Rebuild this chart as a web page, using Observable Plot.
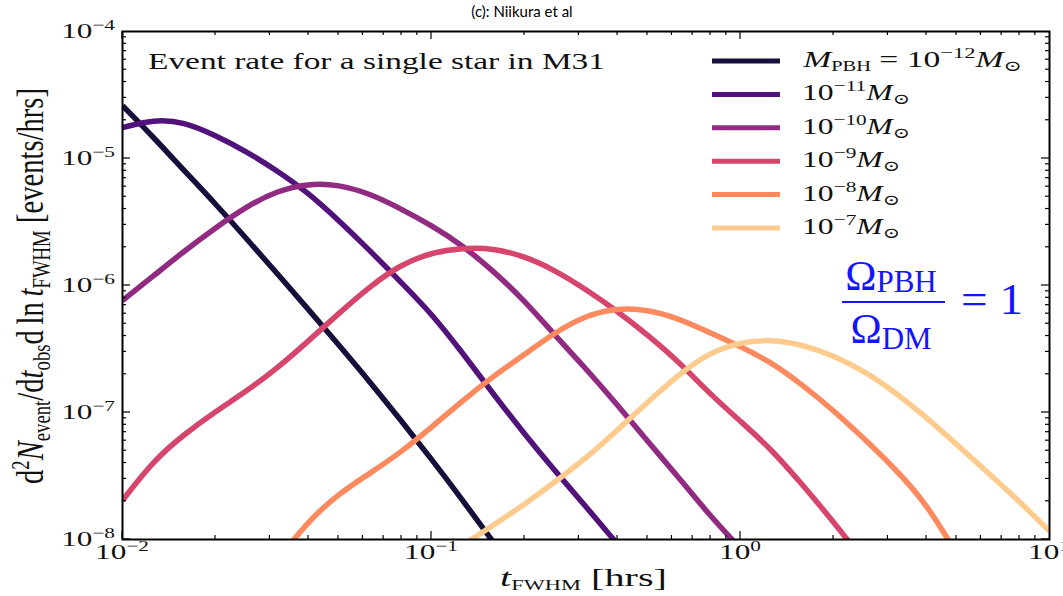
<!DOCTYPE html>
<html><head><meta charset="utf-8">
<script src="https://cdn.jsdelivr.net/npm/d3@7"></script>
<script src="https://cdn.jsdelivr.net/npm/@observablehq/plot@0.6"></script>
<style>body{margin:0;background:#fff}#chart svg{display:block}</style>
</head><body><div id="chart"></div>
<script>
// x grid: t_FWHM [hrs]
const tFWHM = [0.01, 0.0126, 0.0158, 0.02, 0.0251, 0.0316, 0.0398, 0.0501, 0.0631, 0.0794,
  0.1, 0.126, 0.158, 0.2, 0.251, 0.316, 0.398, 0.501, 0.631, 0.794,
  1, 1.26, 1.58, 2, 2.51, 3.16, 3.98, 5.01, 6.31, 7.94, 10];
// event rate [events/hrs] for each PBH mass
const rate_m12 = [2.61e-5, 1.47e-5, 8.07e-6, 4.39e-6, 2.36e-6, 1.25e-6, 6.56e-7, 3.40e-7, 1.75e-7, 8.75e-8,
  4.29e-8, 2.05e-8, 9.6e-9, 4.5e-9, null, null, null, null, null, null,
  null, null, null, null, null, null, null, null, null, null, null];
const rate_m11 = [1.75e-5, 2.03e-5, 1.95e-5, 1.52e-5, 1.14e-5, 8.05e-6, 5.40e-6, 3.25e-6, 1.89e-6, 1.07e-6,
  6.03e-7, 2.95e-7, 1.41e-7, 6.76e-8, 3.47e-8, 1.82e-8, 9.33e-9, null, null, null,
  null, null, null, null, null, null, null, null, null, null, null];
const rate_m10 = [7.62e-7, 1.19e-6, 1.86e-6, 2.85e-6, 4.17e-6, 5.56e-6, 6.35e-6, 6.24e-6, 5.30e-6, 4.04e-6,
  2.97e-6, 2.07e-6, 1.31e-6, 7.62e-7, 4.04e-7, 2.22e-7, 1.16e-7, 5.92e-8, 3.08e-8, 1.55e-8,
  8.49e-9, null, null, null, null, null, null, null, null, null, null];
const rate_m9 = [2.03e-8, 4.19e-8, 6.71e-8, 1.02e-7, 1.46e-7, 2.22e-7, 3.62e-7, 6.03e-7, 9.82e-7, 1.46e-6,
  1.82e-6, 1.97e-6, 1.97e-6, 1.70e-6, 1.32e-6, 9.33e-7, 6.31e-7, 4.07e-7, 2.51e-7, 1.41e-7,
  8.51e-8, 5.13e-8, 2.73e-8, 1.38e-8, 6.76e-9, null, null, null, null, null, null];
const rate_m8 = [null, null, null, null, null, 6.8e-9, 1.39e-8, 2.30e-8, 3.31e-8, 4.84e-8,
  7.62e-8, 1.24e-7, 1.92e-7, 2.86e-7, 4.27e-7, 5.81e-7, 6.65e-7, 6.47e-7, 5.50e-7, 4.27e-7,
  3.31e-7, 2.48e-7, 1.66e-7, 1.04e-7, 6.24e-8, 3.62e-8, 1.95e-8, 7.7e-9, null, null, null];
const rate_m7 = [null, null, null, null, null, null, null, null, null, null,
  null, 8.97e-9, 1.29e-8, 1.89e-8, 2.84e-8, 4.35e-8, 7.21e-8, 1.21e-7, 1.99e-7, 2.97e-7,
  3.59e-7, 3.76e-7, 3.43e-7, 2.81e-7, 2.12e-7, 1.45e-7, 9.23e-8, 5.60e-8, 3.37e-8, 2.03e-8, 1.16e-8];

const massKeys = ["1e-12", "1e-11", "1e-10", "1e-9", "1e-8", "1e-7"];
const massExponents = ["\u221212", "\u221211", "\u221210", "\u22129", "\u22128", "\u22127"];
const massColors = ["#160f3b", "#51127c", "#912b81", "#d6456c", "#fd8a5e", "#fecb8e"];
const xTickExps = [-2, -1, 0, 1];
const yTickExps = [-8, -7, -6, -5, -4];
const title = "(c): Niikura et al";
const insetText = "Event rate for a single star in M31";

const allSeries = [rate_m12, rate_m11, rate_m10, rate_m9, rate_m8, rate_m7];
const rows = [];
allSeries.forEach((ys, i) => ys.forEach((v, j) => {
  if (v != null) rows.push({t: tFWHM[j], rate: v, mass: massKeys[i]});
}));

const SERIF = "'Liberation Serif', 'DejaVu Serif', serif";
const plot = Plot.plot({
  width: 1063, height: 596,
  marginLeft: 122, marginRight: 14, marginTop: 31, marginBottom: 57,
  x: {type: "log", domain: [1e-2, 10], axis: null},
  y: {type: "log", domain: [1e-8, 1e-4], axis: null},
  color: {domain: massKeys, range: massColors},
  style: {background: "#fff", fontFamily: SERIF},
  marks: [
    Plot.line(rows, {x: "t", y: "rate", z: "mass", stroke: "mass", strokeWidth: 5.5,
      curve: "basis", clip: true, strokeLinecap: "butt"}),
    Plot.frame({stroke: "#000", strokeWidth: 2})
  ]
});
document.getElementById("chart").appendChild(plot);

const svg = d3.select(plot);
const X = plot.scale("x"), Y = plot.scale("y");
const xl = X.range[0], xr = X.range[1];
const yb = Y.range[0], yt = Y.range[1];

// inward ticks on all four sides
const tg = svg.append("g").attr("stroke", "#000").attr("stroke-width", 1.2);
function tickLine(x1, y1, x2, y2) { tg.append("line").attr("x1", x1).attr("y1", y1).attr("x2", x2).attr("y2", y2); }
for (let e = xTickExps[0]; e < xTickExps[xTickExps.length - 1]; e++) {
  for (let m = 1; m <= 9; m++) {
    const px = X.apply(m * Math.pow(10, e)); const L = m === 1 ? 8 : 4;
    tickLine(px, yb, px, yb - L); tickLine(px, yt, px, yt + L);
  }
}
for (let e = yTickExps[0]; e < yTickExps[yTickExps.length - 1]; e++) {
  for (let m = 1; m <= 9; m++) {
    const py = Y.apply(m * Math.pow(10, e)); const L = m === 1 ? 8 : 4;
    tickLine(xl, py, xl + L, py); tickLine(xr, py, xr - L, py);
  }
}

const SX = 1.42;
function rich(x, y, parts, opt = {}) {
  const size = opt.size || 22, anchor = opt.anchor || "start", sx = opt.sx == null ? SX : opt.sx;
  const tr = opt.rotate ? `translate(${x},${y}) rotate(${opt.rotate}) scale(1,${sx})` : `translate(${x},${y}) scale(${sx},1)`;
  const t = svg.append("text").attr("transform", tr).attr("text-anchor", anchor)
    .attr("font-size", size).attr("fill", opt.fill || "#111").attr("font-family", opt.family || SERIF);
  let cur = 0;
  parts.forEach(p => {
    const s = t.append("tspan").text(p.text);
    if (p.size) s.attr("font-size", p.size);
    if (p.italic) s.attr("font-style", "italic");
    const shift = p.shift || 0;
    if (shift !== cur) { s.attr("dy", shift - cur); cur = shift; }
  });
  // fit a start-anchored text to a target width (horizontal) or length (rotated)
  if (opt.fit) {
    const bb = t.node().getBBox();
    const k = opt.fit / bb.width;
    if (opt.rotate) {
      t.attr("transform", `translate(${x},${y}) rotate(${opt.rotate}) scale(${k},${sx}) translate(${-(bb.x + bb.width / 2)},0)`);
    } else {
      t.attr("transform", `translate(${x},${y}) scale(${k},1) translate(${-bb.x},0)`);
    }
  }
  return t;
}

// tick labels
xTickExps.forEach(e => rich(X.apply(Math.pow(10, e)), 559,
  [{text: "10"}, {text: (e < 0 ? "\u2212" : "") + Math.abs(e), size: 15, shift: -8}], {anchor: "middle"}));
yTickExps.forEach(e => rich(115, Y.apply(Math.pow(10, e)) + 7,
  [{text: "10"}, {text: (e < 0 ? "\u2212" : "") + Math.abs(e), size: 15, shift: -8}], {anchor: "end"}));

// axis labels
rich(500, 586, [{text: "t", italic: true}, {text: "FWHM", size: 14.5, shift: 4}, {text: " [hrs]", shift: 0}], {size: 26, fit: 167});
rich(43, 286, [
  {text: "d"}, {text: "2", size: 17, shift: -10}, {text: "N", italic: true, shift: 0},
  {text: "event", size: 17, shift: 5}, {text: "/d", shift: 0}, {text: "t", italic: true},
  {text: "obs", size: 17, shift: 5}, {text: "d\u2009ln\u2009", shift: 0}, {text: "t", italic: true},
  {text: "FWHM", size: 17, shift: 5}, {text: " [events/hrs]", shift: 0}
], {size: 26, rotate: -90, sx: 1.45, fit: 396});

// title and inset text
rich(522, 17, [{text: title}], {size: 15, anchor: "middle", sx: 1, family: "Lato, 'Open Sans', sans-serif", fill: "#000"});
rich(148, 69, [{text: insetText}], {size: 23, fit: 457});

// legend
const legendWidths = [220, 108, 108, 98, 98, 98];
massKeys.forEach((k, i) => {
  const ry = 61 + i * 33.4;
  svg.append("line").attr("x1", 712).attr("x2", 780).attr("y1", ry).attr("y2", ry)
    .attr("stroke", massColors[i]).attr("stroke-width", 5);
  const parts = i === 0
    ? [{text: "M", italic: true}, {text: "PBH", size: 14, shift: 4}, {text: " = 10", shift: 0},
       {text: massExponents[i], size: 15.5, shift: -9}, {text: "M", italic: true, shift: 0}, {text: "\u2299", size: 15, shift: 4}]
    : [{text: "10"}, {text: massExponents[i], size: 15.5, shift: -9}, {text: "M", italic: true, shift: 0}, {text: "\u2299", size: 15, shift: 4}];
  rich(802, ry + 6, parts, {size: 23, fit: legendWidths[i]});
});

// Omega_PBH / Omega_DM = 1
const BLUE = "#1414ff";
rich(891, 290, [{text: "\u03A9"}, {text: "PBH", size: 31, shift: 2}], {size: 42, anchor: "middle", sx: 1, fill: BLUE});
svg.append("line").attr("x1", 842).attr("x2", 945).attr("y1", 302).attr("y2", 302).attr("stroke", BLUE).attr("stroke-width", 2);
rich(891, 343, [{text: "\u03A9"}, {text: "DM", size: 31, shift: 6}], {size: 42, anchor: "middle", sx: 1, fill: BLUE});
rich(961, 314, [{text: "= 1"}], {size: 44, fill: BLUE, fit: 62});
</script></body></html>
